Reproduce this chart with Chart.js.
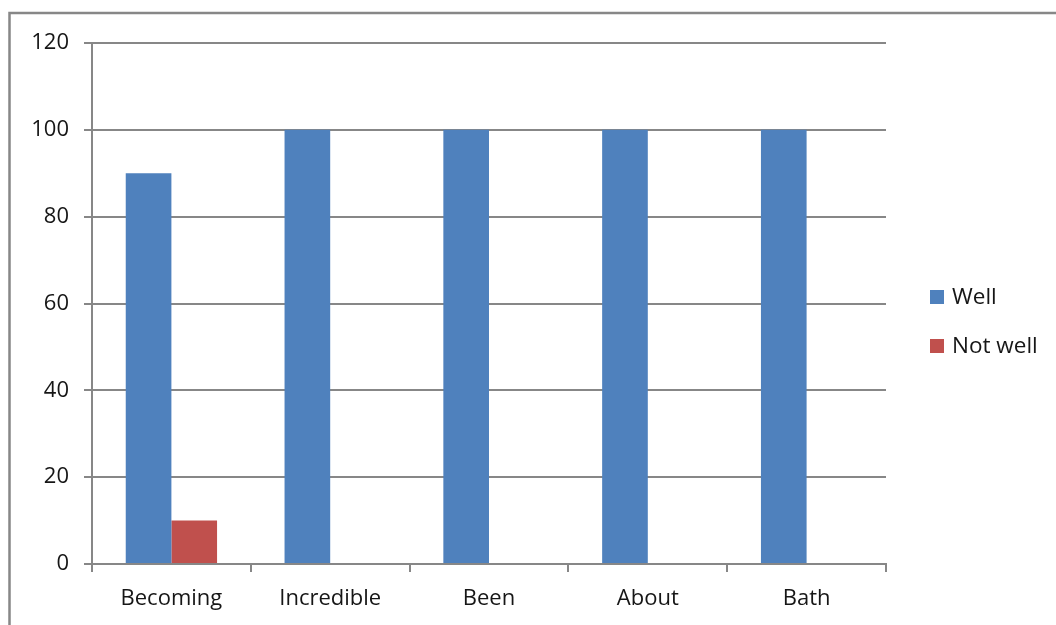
<!DOCTYPE html>
<html>
<head>
<meta charset="utf-8">
<script src="https://cdn.jsdelivr.net/npm/chart.js@4/dist/chart.umd.min.js"></script>
<style>
  html, body { margin: 0; padding: 0; background: #ffffff; }
  #wrap { position: relative; width: 1056px; height: 625px; }
</style>
</head>
<body>
<div id="wrap"><canvas id="c" width="1056" height="625"></canvas></div>
<script>
// Categories and series
const categories = ['Becoming', 'Incredible', 'Been', 'About', 'Bath'];
const wellValues = [90, 100, 100, 100, 100];
const notWellValues = [10, 0, 0, 0, 0];
const seriesNames = ['Well', 'Not well'];
const yTicks = [0, 20, 40, 60, 80, 100, 120];

const GRID = '#878787';
const TEXT = '#161616';
const FONT = "'Open Sans', 'Noto Sans', sans-serif";

// Frame around the whole chart (left and top edges visible)
const framePlugin = {
  id: 'frame',
  beforeDraw(chart) {
    const ctx = chart.ctx;
    ctx.save();
    ctx.fillStyle = '#ffffff';
    ctx.fillRect(0, 0, chart.width, chart.height);
    ctx.strokeStyle = GRID;
    ctx.lineWidth = 2.5;
    ctx.beginPath();
    ctx.moveTo(9.5, chart.height + 5);
    ctx.lineTo(9.5, 13);
    ctx.lineTo(chart.width + 5, 13);
    ctx.stroke();
    ctx.restore();
  }
};

// Legend at the right, vertically stacked
const sideLegend = {
  id: 'sideLegend',
  afterDraw(chart) {
    const ctx = chart.ctx;
    const x = chart.chartArea.right + 44;
    const rows = [297, 346];
    ctx.save();
    ctx.font = '22.5px ' + FONT;
    ctx.textBaseline = 'middle';
    ctx.textAlign = 'left';
    chart.data.datasets.forEach((ds, i) => {
      const y = rows[i];
      ctx.fillStyle = ds.backgroundColor;
      ctx.fillRect(x, y - 7, 14, 14);
      ctx.fillStyle = TEXT;
      ctx.fillText(ds.label, x + 22, y + 1);
    });
    ctx.restore();
  }
};

new Chart(document.getElementById('c'), {
  type: 'bar',
  data: {
    labels: categories,
    datasets: [
      { label: seriesNames[0], data: wellValues, backgroundColor: '#4F81BD' },
      { label: seriesNames[1], data: notWellValues, backgroundColor: '#C0504D' }
    ]
  },
  options: {
    responsive: false,
    animation: false,
    devicePixelRatio: 1,
    layout: { padding: { top: 43, right: 170, left: 10, bottom: 0 } },
    datasets: { bar: { categoryPercentage: 0.575, barPercentage: 1.0, borderWidth: 0 } },
    plugins: { legend: { display: false }, tooltip: { enabled: false } },
    scales: {
      x: {
        offset: true,
        afterFit(s) { s.height = 625 - 564; },
        grid: {
          offset: true,
          drawOnChartArea: false,
          drawTicks: true,
          tickLength: 8,
          color: GRID,
          lineWidth: 2
        },
        border: { display: true, color: GRID, width: 2 },
        ticks: { color: TEXT, font: { family: FONT, size: 22 }, padding: 14, maxRotation: 0 }
      },
      y: {
        min: 0,
        max: 120,
        afterFit(s) { s.width = 92 - 10; },
        afterBuildTicks(s) { s.ticks = yTicks.map(v => ({ value: v })); },
        grid: { color: GRID, lineWidth: 2, tickLength: 8, drawTicks: true },
        border: { display: true, color: GRID, width: 2 },
        ticks: { color: TEXT, font: { family: FONT, size: 22 }, padding: 15 }
      }
    }
  },
  plugins: [framePlugin, sideLegend]
});
</script>
</body>
</html>
